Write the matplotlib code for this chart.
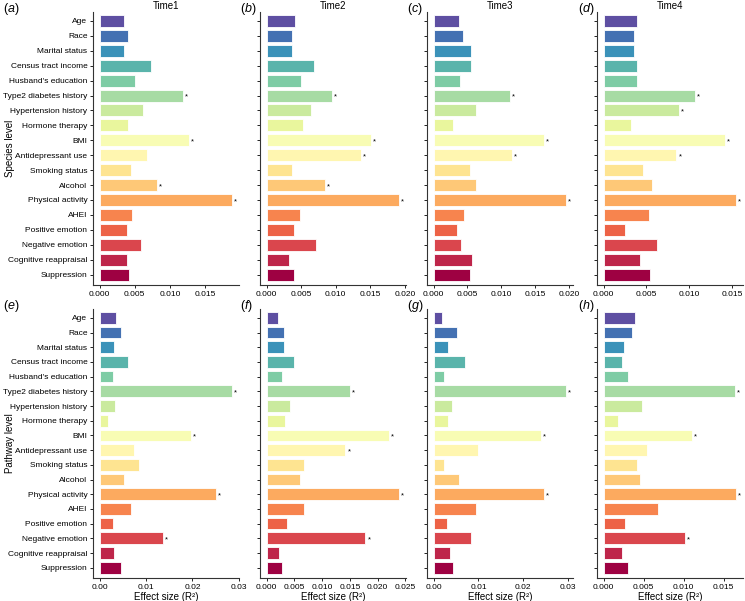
import matplotlib
matplotlib.use("Agg")
import matplotlib.pyplot as plt
from matplotlib.ticker import FormatStrFormatter, MultipleLocator
import numpy as np

plt.rcParams['font.family'] = ['Liberation Sans', 'DejaVu Sans']
plt.rcParams['mathtext.fontset'] = 'custom'
plt.rcParams['mathtext.it'] = 'Liberation Sans:italic'
plt.rcParams['mathtext.rm'] = 'Liberation Sans'

categories = ['Age', 'Race', 'Marital status', 'Census tract income', "Husband's education",
              'Type2 diabetes history', 'Hypertension history', 'Hormone therapy', 'BMI',
              'Antidepressant use', 'Smoking status', 'Alcohol', 'Physical activity', 'AHEI',
              'Positive emotion', 'Negative emotion', 'Cognitive reappraisal', 'Suppression']

# species level, Time1..Time4
species_t1 = [0.0035, 0.0041, 0.0035, 0.0073, 0.0051, 0.0118, 0.0062, 0.0040, 0.0127,
              0.0067, 0.0045, 0.0081, 0.0189, 0.0046, 0.0039, 0.0059, 0.0039, 0.0042]
species_t2 = [0.0041, 0.0036, 0.0036, 0.0069, 0.0050, 0.0095, 0.0064, 0.0053, 0.0151,
              0.0136, 0.0037, 0.0084, 0.0192, 0.0048, 0.0040, 0.0072, 0.0033, 0.0039]
species_t3 = [0.0037, 0.0043, 0.0055, 0.0055, 0.0039, 0.0113, 0.0062, 0.0028, 0.0163,
              0.0115, 0.0053, 0.0062, 0.0196, 0.0045, 0.0035, 0.0040, 0.0056, 0.0053]
species_t4 = [0.0039, 0.0036, 0.0035, 0.0039, 0.0039, 0.0107, 0.0088, 0.0032, 0.0142,
              0.0085, 0.0046, 0.0057, 0.0155, 0.0053, 0.0025, 0.0062, 0.0043, 0.0054]

# pathway level, Time1..Time4
pathway_t1 = [0.0035, 0.0047, 0.0031, 0.0061, 0.0028, 0.0286, 0.0034, 0.0019, 0.0196,
              0.0073, 0.0084, 0.0052, 0.0250, 0.0067, 0.0029, 0.0137, 0.0032, 0.0045]
pathway_t2 = [0.0020, 0.0031, 0.0031, 0.0050, 0.0027, 0.0150, 0.0042, 0.0033, 0.0220,
              0.0142, 0.0067, 0.0060, 0.0239, 0.0067, 0.0036, 0.0178, 0.0022, 0.0027]
pathway_t3 = [0.0019, 0.0053, 0.0032, 0.0070, 0.0024, 0.0296, 0.0042, 0.0032, 0.0239,
              0.0099, 0.0024, 0.0056, 0.0246, 0.0094, 0.0030, 0.0084, 0.0036, 0.0044]
pathway_t4 = [0.0039, 0.0035, 0.0025, 0.0023, 0.0030, 0.0164, 0.0048, 0.0018, 0.0111,
              0.0054, 0.0042, 0.0046, 0.0166, 0.0068, 0.0027, 0.0102, 0.0023, 0.0031]

# significant predictors (marked with *)
sig_s1 = ['Type2 diabetes history', 'BMI', 'Alcohol', 'Physical activity']
sig_s2 = ['Type2 diabetes history', 'BMI', 'Antidepressant use', 'Alcohol', 'Physical activity']
sig_s3 = ['Type2 diabetes history', 'BMI', 'Antidepressant use', 'Physical activity']
sig_s4 = ['Type2 diabetes history', 'Hypertension history', 'BMI', 'Antidepressant use', 'Physical activity']
sig_p1 = ['Type2 diabetes history', 'BMI', 'Physical activity', 'Negative emotion']
sig_p2 = ['Type2 diabetes history', 'BMI', 'Antidepressant use', 'Physical activity', 'Negative emotion']
sig_p3 = ['Type2 diabetes history', 'BMI', 'Physical activity']
sig_p4 = ['Type2 diabetes history', 'BMI', 'Physical activity', 'Negative emotion']

times = ['Time1', 'Time2', 'Time3', 'Time4']
panel_letters = ['a', 'b', 'c', 'd', 'e', 'f', 'g', 'h']
rows = [[species_t1, species_t2, species_t3, species_t4],
        [pathway_t1, pathway_t2, pathway_t3, pathway_t4]]
sigs = [[sig_s1, sig_s2, sig_s3, sig_s4], [sig_p1, sig_p2, sig_p3, sig_p4]]
row_labels = ['Species level', 'Pathway level']
tick_steps = [[0.005, 0.005, 0.005, 0.005], [0.01, 0.005, 0.01, 0.005]]
tick_fmts = [['%.3f', '%.3f', '%.3f', '%.3f'], ['%.2f', '%.3f', '%.2f', '%.3f']]

colors = plt.get_cmap('Spectral_r')(np.linspace(0, 1, len(categories)))

W, H = 745, 601
fig = plt.figure(figsize=(W / 100, H / 100), dpi=100)

lefts = [93, 260, 427, 597]
width = 146
row_tops = [12, 309]
row_bottoms = [285, 578]
label_x = [3, 240, 407, 578]

y = np.arange(len(categories))
for r in range(2):
    for c in range(4):
        vals = rows[r][c]
        ax = fig.add_axes([lefts[c] / W, 1 - row_bottoms[r] / H, width / W,
                           (row_bottoms[r] - row_tops[r]) / H])
        ax.barh(y, vals, height=0.8, color=colors, edgecolor='white', linewidth=0.6)
        vmax = max(vals)
        ax.set_xlim(-0.05 * vmax, 1.05 * vmax)
        ax.set_ylim(17.7, -0.6)
        for i, cat in enumerate(categories):
            if cat in sigs[r][c]:
                ax.text(vals[i] + vmax * 0.015, i + 0.1, '*', fontsize=5.5,
                        ha='left', va='center')
        ax.set_yticks(y)
        ax.xaxis.set_major_locator(MultipleLocator(tick_steps[r][c]))
        ax.xaxis.set_major_formatter(FormatStrFormatter(tick_fmts[r][c]))
        if c == 0:
            ax.set_yticklabels(categories, fontsize=6)
            ax.set_ylabel(row_labels[r], fontsize=7)
            ax.yaxis.set_label_coords(-0.535, 0.5)
        else:
            ax.set_yticklabels([])
        ax.tick_params(axis='both', labelsize=6, length=2, width=0.6, pad=2)
        for s in ['top', 'right']:
            ax.spines[s].set_visible(False)
        for s in ['left', 'bottom']:
            ax.spines[s].set_linewidth(0.8)
            ax.spines[s].set_color('#333333')
        if r == 0:
            ax.set_title(times[c], fontsize=7, pad=2)
        else:
            ax.set_xlabel('Effect size (R²)', fontsize=7, labelpad=1)
        letter = panel_letters[r * 4 + c]
        fig.text(label_x[c] / W, 1 - (row_tops[r] - 3) / H, '(' + r'$\it{' + letter + '}$' + ')',
                 fontsize=9, ha='left', va='center')

fig.savefig('out.png', dpi=100)
